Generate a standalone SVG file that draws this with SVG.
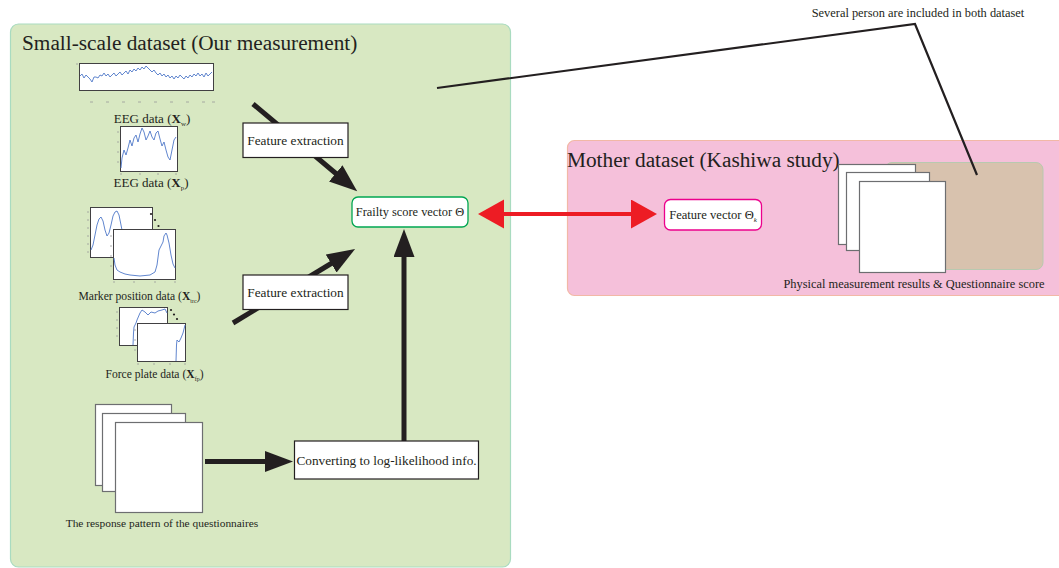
<svg xmlns="http://www.w3.org/2000/svg" width="1059" height="568" viewBox="0 0 1059 568">
  <style>
    .t { font-family: "Liberation Serif", "Times New Roman", serif; fill: #231f20; }
    .panel-g { fill: #d8e8c2; stroke: #a9dbc0; stroke-width: 1.2; }
    .panel-p { fill: #f5c0da; stroke: #f2b8a6; stroke-width: 1.2; }
    .box { fill: #ffffff; stroke: #231f20; stroke-width: 1.2; }
    .card { fill: #ffffff; stroke: #6d6e71; stroke-width: 1.2; }
    .plot { fill: #ffffff; stroke: #414042; stroke-width: 1; }
    .sig { fill: none; stroke: #4f78c8; stroke-width: 0.9; stroke-linejoin: round; }
    .tick { stroke: #9a9a9a; stroke-width: 0.8; }
    .dot { fill: #231f20; }
    .flow { fill: none; stroke: #231f20; stroke-width: 5; }
    .link { fill: none; stroke: #ed1c24; stroke-width: 4; }
    .callout { fill: none; stroke: #231f20; stroke-width: 2.2; stroke-linejoin: miter; }
  </style>
  <defs>
    <marker id="head" markerUnits="userSpaceOnUse" markerWidth="30" markerHeight="22" refX="1" refY="10.5" orient="auto">
      <path d="M0,0 L28,10.5 L0,21 z" fill="#231f20"/>
    </marker>
    <marker id="redhead" markerUnits="userSpaceOnUse" markerWidth="28" markerHeight="30" refX="1" refY="14.5" orient="auto-start-reverse">
      <path d="M0,0 L26,14.5 L0,29 z" fill="#ed1c24"/>
    </marker>
  </defs>

  <!-- dataset panels -->
  <g id="small-scale-dataset">
    <rect class="panel-g" x="10.5" y="24" width="500" height="543" rx="8"/>
    <text class="t" x="22" y="50" font-size="21.3">Small-scale dataset (Our measurement)</text>
  </g>
  <g id="mother-dataset">
    <rect class="panel-p" x="567.5" y="140.5" width="500" height="155" rx="7"/>
    <text class="t" x="567" y="167" font-size="21.3">Mother dataset (Kashiwa study)</text>
  </g>

  <!-- mother dataset records (backdrop, drawn under the note line) -->
  <g id="kashiwa-records">
    <rect x="885" y="162.5" width="158" height="107" rx="7" fill="#d8c2ae" stroke="#b8c9b0" stroke-width="1"/>
    <rect class="card" x="838.5" y="164.5" width="77" height="80"/>
    <rect class="card" x="846.5" y="172.5" width="83" height="78"/>
    <rect class="card" x="859.5" y="181.5" width="86" height="91"/>
    <text class="t" x="914" y="288" font-size="12.4" text-anchor="middle">Physical measurement results &amp; Questionnaire score</text>
  </g>

  <!-- connectors -->
  <g id="connectors">
    <line class="flow" x1="253" y1="104" x2="336.5" y2="174" marker-end="url(#head)"/>
    <line class="flow" x1="233" y1="323" x2="332" y2="263" marker-end="url(#head)"/>
    <line class="flow" x1="404" y1="441" x2="404" y2="256" marker-end="url(#head)"/>
    <line class="flow" x1="205" y1="461.5" x2="266" y2="461.5" marker-end="url(#head)"/>
    <line class="link" x1="503" y1="214" x2="632" y2="214" marker-start="url(#redhead)" marker-end="url(#redhead)"/>
    <polyline class="callout" points="437,88 915,24 977,175"/>
  </g>

  <!-- EEG waveform -->
  <g id="eeg-w">
    <rect class="plot" x="79.5" y="63.5" width="134" height="27"/>
    <polyline class="sig" points="80,76 82,74 84,78 86,75 88,77 90,79 92,82 94,77 96,77 98,78 100,75 102,76 104,73 106,76 108,74 110,77 112,75 114,73 116,76 118,74 120,72 122,75 124,73 126,71 128,74 130,70 132,72 134,69 136,71 138,68 140,70 142,67 144,69 146,66 148,68 150,70 152,72 154,70 156,73 158,75 160,73 162,76 164,74 166,77 168,75 170,78 172,76 174,79 176,76 178,78 180,75 182,77 184,79 186,76 188,78 190,75 192,77 194,74 196,76 198,73 200,76 202,74 204,77 206,73 208,76 210,74 212,72"/>
    <g class="tick">
      <line x1="90" y1="102" x2="93" y2="102"/><line x1="106" y1="102" x2="109" y2="102"/>
      <line x1="122" y1="102" x2="125" y2="102"/><line x1="138" y1="102" x2="141" y2="102"/>
      <line x1="154" y1="102" x2="157" y2="102"/><line x1="170" y1="102" x2="173" y2="102"/>
      <line x1="186" y1="102" x2="189" y2="102"/><line x1="202" y1="102" x2="205" y2="102"/>
      <line x1="212" y1="102" x2="215" y2="102"/><line x1="76" y1="64" x2="78" y2="64"/>
    </g>
    <text class="t" x="152" y="123" font-size="13" text-anchor="middle">EEG data (<tspan font-weight="bold">X</tspan><tspan font-size="7" dy="3">w</tspan><tspan dy="-3">)</tspan></text>
  </g>

  <!-- EEG power spectrum -->
  <g id="eeg-p">
    <rect class="plot" x="120.5" y="126.5" width="57" height="45"/>
    <polyline class="sig" points="121,168 122,158 124,150 126,155 128,148 130,140 132,146 134,138 136,135 138,142 140,134 142,128 144,132 146,140 148,136 150,131 152,137 154,140 156,133 158,131 160,139 162,146 164,142 166,150 168,157 170,160 172,150 174,140 176,137"/>
    <g class="tick">
      <line x1="117" y1="132" x2="119" y2="132"/><line x1="117" y1="142" x2="119" y2="142"/>
      <line x1="117" y1="152" x2="119" y2="152"/><line x1="117" y1="162" x2="119" y2="162"/>
      <line x1="121" y1="173" x2="121" y2="175"/><line x1="140" y1="173" x2="140" y2="175"/>
      <line x1="158" y1="173" x2="158" y2="175"/><line x1="176" y1="173" x2="176" y2="175"/>
    </g>
    <text class="t" x="151" y="187" font-size="13" text-anchor="middle">EEG data (<tspan font-weight="bold">X</tspan><tspan font-size="7" dy="3">p</tspan><tspan dy="-3">)</tspan></text>
  </g>

  <!-- marker trajectories -->
  <g id="marker-position">
    <rect class="plot" x="90.5" y="207.5" width="62" height="50"/>
    <polyline class="sig" points="91,250 93,245 95,235 97,225 99,219 101,217 103,221 105,230 107,236 109,233 111,225 113,216 115,212 117,211 119,215 121,225 123,235"/>
    <g class="tick">
      <line x1="87" y1="212" x2="89" y2="212"/><line x1="87" y1="220" x2="89" y2="220"/>
      <line x1="87" y1="228" x2="89" y2="228"/><line x1="87" y1="236" x2="89" y2="236"/>
      <line x1="87" y1="244" x2="89" y2="244"/><line x1="87" y1="252" x2="89" y2="252"/>
    </g>
    <circle class="dot" cx="151" cy="214" r="1.1"/>
    <circle class="dot" cx="155" cy="220" r="1.1"/>
    <circle class="dot" cx="158.5" cy="226" r="1.1"/>
    <rect class="plot" x="113.5" y="229.5" width="62" height="50"/>
    <polyline class="sig" points="114,258 115,265 117,270 120,272 125,274 130,275 140,276 150,275 155,272 157,265 159,250 161,246 163,242 164,236 166,233 167,235 169,243 171,255 173,264 175,268"/>
    <g class="tick">
      <line x1="110" y1="236" x2="112" y2="236"/><line x1="110" y1="246" x2="112" y2="246"/>
      <line x1="110" y1="256" x2="112" y2="256"/><line x1="110" y1="266" x2="112" y2="266"/>
      <line x1="114" y1="281" x2="114" y2="283"/><line x1="134" y1="281" x2="134" y2="283"/>
      <line x1="155" y1="281" x2="155" y2="283"/><line x1="175" y1="281" x2="175" y2="283"/>
    </g>
    <text class="t" x="139.5" y="300" font-size="11.6" text-anchor="middle">Marker position data (<tspan font-weight="bold">X</tspan><tspan font-size="6" dy="3">trc</tspan><tspan dy="-3">)</tspan></text>
  </g>

  <!-- force plate signals -->
  <g id="force-plate">
    <rect class="plot" x="119.5" y="307.5" width="48" height="38"/>
    <polyline class="sig" points="133,345 133.5,333 134,327 136,323 137,320 140,313 142,310 145,312 148,315 151,312 155,313 158,311 162,310 165,309 167,313"/>
    <g class="tick">
      <line x1="116" y1="312" x2="118" y2="312"/><line x1="116" y1="320" x2="118" y2="320"/>
      <line x1="116" y1="328" x2="118" y2="328"/><line x1="116" y1="336" x2="118" y2="336"/>
    </g>
    <circle class="dot" cx="171" cy="310" r="1.1"/>
    <circle class="dot" cx="174" cy="314.5" r="1.1"/>
    <circle class="dot" cx="177" cy="319" r="1.1"/>
    <rect class="plot" x="137.5" y="323.5" width="48" height="38"/>
    <polyline class="sig" points="176,361 176.5,345 177,340 179,342 181,338 183,333 185,325"/>
    <g class="tick">
      <line x1="134" y1="330" x2="136" y2="330"/><line x1="134" y1="340" x2="136" y2="340"/>
      <line x1="134" y1="350" x2="136" y2="350"/>
      <line x1="138" y1="363" x2="138" y2="365"/><line x1="154" y1="363" x2="154" y2="365"/>
      <line x1="170" y1="363" x2="170" y2="365"/><line x1="185" y1="363" x2="185" y2="365"/>
    </g>
    <text class="t" x="154.5" y="378" font-size="11.6" text-anchor="middle">Force plate data (<tspan font-weight="bold">X</tspan><tspan font-size="6" dy="3">fp</tspan><tspan dy="-3">)</tspan></text>
  </g>

  <!-- questionnaire sheets -->
  <g id="questionnaires">
    <rect class="card" x="95.5" y="404.5" width="76" height="81"/>
    <rect class="card" x="102.5" y="413.5" width="83" height="78"/>
    <rect class="card" x="115.5" y="422.5" width="87" height="90"/>
    <text class="t" x="162" y="527" font-size="11.4" text-anchor="middle">The response pattern of the questionnaires</text>
  </g>

  <!-- processing steps -->
  <g id="feature-extraction-1">
    <rect class="box" x="243" y="123" width="105" height="34.5"/>
    <text class="t" x="295.5" y="144.5" font-size="13.3" text-anchor="middle">Feature extraction</text>
  </g>
  <g id="feature-extraction-2">
    <rect class="box" x="243" y="275" width="105" height="34.5"/>
    <text class="t" x="295.5" y="296.5" font-size="13.3" text-anchor="middle">Feature extraction</text>
  </g>
  <g id="log-likelihood">
    <rect class="box" x="294.5" y="441" width="184" height="38"/>
    <text class="t" x="386.5" y="465" font-size="13.3" text-anchor="middle">Converting to log-likelihood info.</text>
  </g>
  <g id="frailty-score">
    <rect x="352" y="197" width="116" height="30" rx="6" fill="#ffffff" stroke="#00a651" stroke-width="1.3"/>
    <text class="t" x="410" y="216" font-size="12.4" text-anchor="middle">Frailty score vector Θ</text>
  </g>
  <g id="feature-vector">
    <rect x="664.5" y="199.5" width="97" height="30.5" rx="6" fill="#ffffff" stroke="#ec008c" stroke-width="1.3"/>
    <text class="t" x="713" y="218.5" font-size="12.6" text-anchor="middle">Feature vector Θ<tspan font-size="7" font-style="italic" dy="3">k</tspan></text>
  </g>

  <!-- shared-participant note -->
  <g id="shared-note">
    <text class="t" x="918" y="17" font-size="12.4" text-anchor="middle">Several person are included in both dataset</text>
  </g>
</svg>
